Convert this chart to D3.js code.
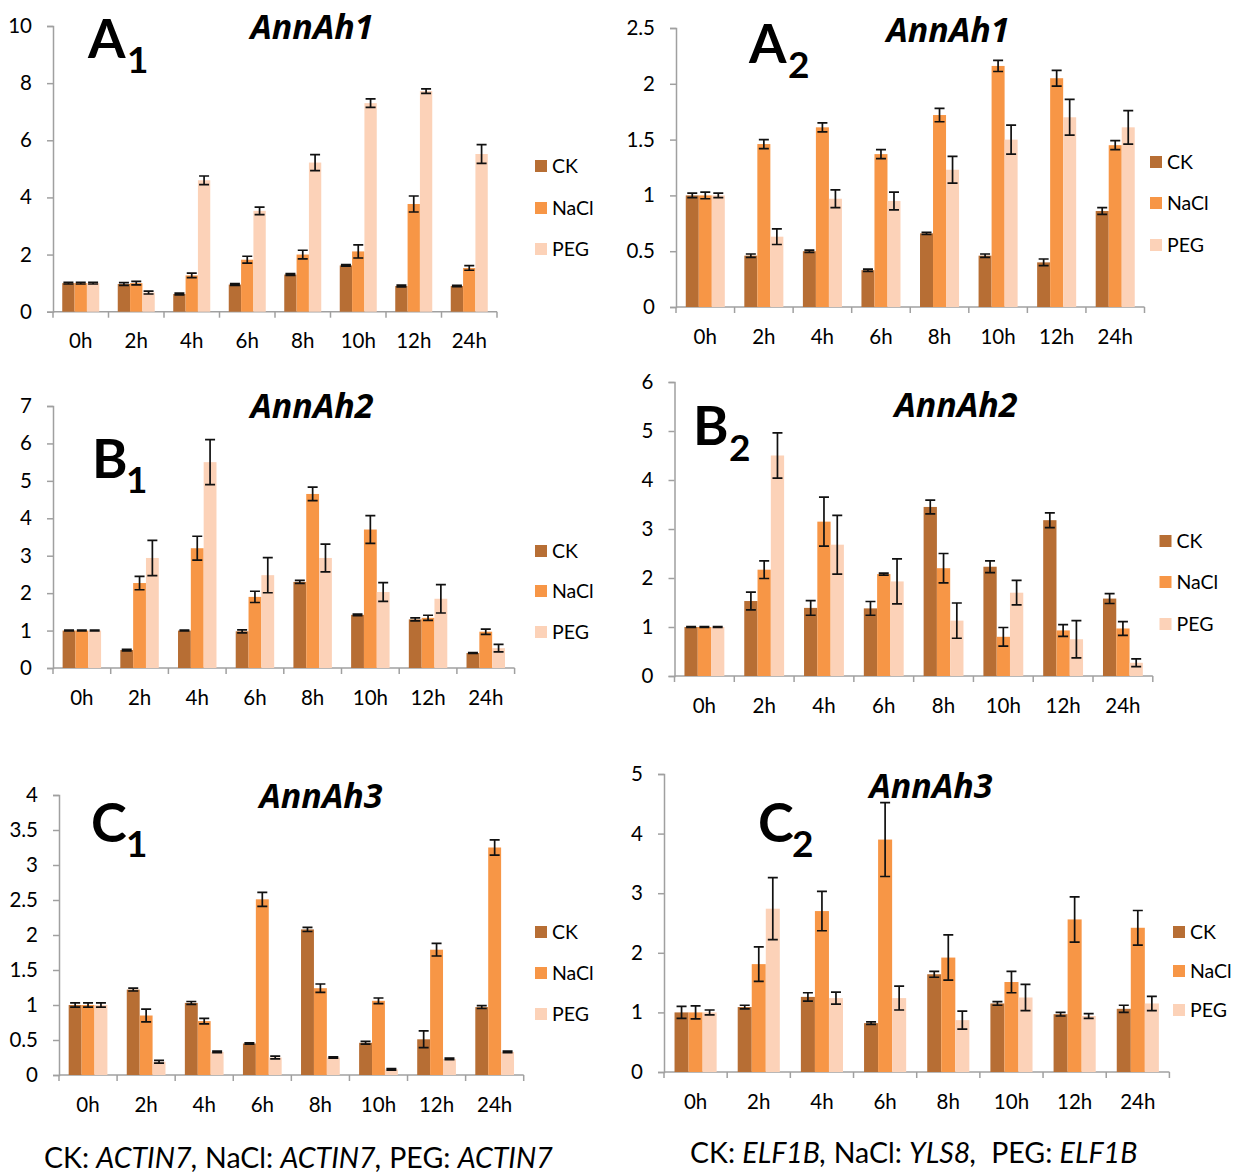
<!DOCTYPE html>
<html lang="en">
<head>
    <meta charset="utf-8"/>
    <style>
        body { margin: 0; background: #fff; }
        svg { display: block; font-family: Lato, "Open Sans", sans-serif; }
        .axis path, .axis line { stroke: #a0a0a0; stroke-width: 1.5px; }
        .axis text { font-size: 20.5px; fill: #000; font-family: Lato, sans-serif; }
        .err { stroke: #111; stroke-width: 1.7px; fill: none; }
        .title { font-size: 34px; font-weight: bold; font-style: italic; font-family: "Open Sans", sans-serif; }
        .tag { font-size: 54px; font-weight: bold; }
        .tagsub { font-size: 37px; font-weight: bold; }
        .legend text { font-size: 19.5px; }
        .caption { font-size: 28.5px; }
    </style>
    <script src="https://cdn.jsdelivr.net/npm/d3@7"></script>
</head>
<body>
<svg id="chart" width="1234" height="1174"></svg>
<script>
    var hours = ['0h', '2h', '4h', '6h', '8h', '10h', '12h', '24h'];
    var series = ['CK', 'NaCl', 'PEG'];
    var colors = ['#b76e34', '#f79646', '#fcd2b8'];

    // A1 - AnnAh1 (ACTIN7)
    var a1CK = [1.0, 0.97, 0.62, 0.95, 1.30, 1.62, 0.90, 0.90];
    var a1CKerr = [0.03, 0.05, 0.03, 0.03, 0.03, 0.03, 0.03, 0.02];
    var a1NaCl = [1.0, 1.0, 1.27, 1.82, 2.0, 2.11, 3.77, 1.53];
    var a1NaClerr = [0.03, 0.06, 0.08, 0.12, 0.15, 0.23, 0.28, 0.08];
    var a1PEG = [1.0, 0.67, 4.6, 3.53, 5.22, 7.3, 7.72, 5.52];
    var a1PEGerr = [0.03, 0.05, 0.15, 0.13, 0.28, 0.15, 0.08, 0.33];
    var a1Ticks = [0, 2, 4, 6, 8, 10];

    // A2 - AnnAh1 (ELF1B / YLS8)
    var a2CK = [1.0, 0.46, 0.50, 0.33, 0.66, 0.46, 0.40, 0.86];
    var a2CKerr = [0.02, 0.015, 0.01, 0.01, 0.01, 0.015, 0.03, 0.03];
    var a2NaCl = [1.0, 1.46, 1.61, 1.37, 1.72, 2.16, 2.05, 1.45];
    var a2NaClerr = [0.03, 0.04, 0.04, 0.04, 0.06, 0.05, 0.07, 0.04];
    var a2PEG = [1.0, 0.63, 0.97, 0.95, 1.23, 1.50, 1.70, 1.61];
    var a2PEGerr = [0.02, 0.07, 0.08, 0.08, 0.12, 0.13, 0.16, 0.15];
    var a2Ticks = [0, 0.5, 1, 1.5, 2, 2.5];

    // B1 - AnnAh2
    var b1CK = [1.0, 0.48, 1.0, 0.98, 2.30, 1.42, 1.30, 0.40];
    var b1CKerr = [0.01, 0.02, 0.01, 0.04, 0.04, 0.02, 0.04, 0.01];
    var b1NaCl = [1.0, 2.27, 3.20, 1.90, 4.65, 3.70, 1.34, 0.97];
    var b1NaClerr = [0.01, 0.18, 0.32, 0.15, 0.18, 0.37, 0.07, 0.07];
    var b1PEG = [1.0, 2.94, 5.50, 2.48, 2.94, 2.03, 1.85, 0.53];
    var b1PEGerr = [0.01, 0.47, 0.60, 0.47, 0.37, 0.25, 0.38, 0.10];
    var b1Ticks = [0, 1, 2, 3, 4, 5, 6, 7];

    // B2 - AnnAh2
    var b2CK = [1.0, 1.53, 1.39, 1.38, 3.45, 2.23, 3.18, 1.58];
    var b2CKerr = [0.01, 0.18, 0.15, 0.14, 0.14, 0.12, 0.15, 0.10];
    var b2NaCl = [1.0, 2.17, 3.15, 2.08, 2.20, 0.80, 0.93, 0.97];
    var b2NaClerr = [0.01, 0.18, 0.50, 0.02, 0.30, 0.19, 0.12, 0.14];
    var b2PEG = [1.0, 4.50, 2.68, 1.93, 1.13, 1.70, 0.75, 0.27];
    var b2PEGerr = [0.01, 0.46, 0.60, 0.46, 0.36, 0.25, 0.38, 0.08];
    var b2Ticks = [0, 1, 2, 3, 4, 5, 6];

    // C1 - AnnAh3
    var c1CK = [1.0, 1.22, 1.03, 0.45, 2.08, 0.46, 0.51, 0.97];
    var c1CKerr = [0.03, 0.02, 0.02, 0.01, 0.03, 0.02, 0.12, 0.02];
    var c1NaCl = [1.0, 0.85, 0.77, 2.51, 1.24, 1.06, 1.79, 3.25];
    var c1NaClerr = [0.03, 0.09, 0.04, 0.10, 0.06, 0.04, 0.09, 0.11];
    var c1PEG = [1.0, 0.19, 0.33, 0.25, 0.25, 0.08, 0.23, 0.33];
    var c1PEGerr = [0.03, 0.02, 0.01, 0.02, 0.01, 0.01, 0.01, 0.01];
    var c1Ticks = [0, 0.5, 1, 1.5, 2, 2.5, 3, 3.5, 4];

    // C2 - AnnAh3
    var c2CK = [1.0, 1.09, 1.26, 0.82, 1.64, 1.15, 0.97, 1.06];
    var c2CKerr = [0.10, 0.03, 0.07, 0.02, 0.05, 0.03, 0.03, 0.06];
    var c2NaCl = [1.0, 1.81, 2.70, 3.90, 1.92, 1.51, 2.56, 2.42];
    var c2NaClerr = [0.11, 0.29, 0.33, 0.62, 0.38, 0.18, 0.38, 0.29];
    var c2PEG = [1.0, 2.74, 1.24, 1.24, 0.87, 1.25, 0.94, 1.15];
    var c2PEGerr = [0.04, 0.52, 0.10, 0.20, 0.15, 0.22, 0.04, 0.12];
    var c2Ticks = [0, 1, 2, 3, 4, 5];

    var panels = [
        {gene: 'AnnAh1', tag: 'A', sub: '1', vals: [a1CK, a1NaCl, a1PEG], errs: [a1CKerr, a1NaClerr, a1PEGerr], ticks: a1Ticks,
         x0: 53, x1: 497, yTop: 26, yBot: 311.7, legX: 535, legY: [166, 208, 249],
         titleX: 312, titleY: 39, tagX: 88, tagY: 58, subX: 127, subY: 73},
        {gene: 'AnnAh1', tag: 'A', sub: '2', vals: [a2CK, a2NaCl, a2PEG], errs: [a2CKerr, a2NaClerr, a2PEGerr], ticks: a2Ticks,
         x0: 676, x1: 1144.5, yTop: 28, yBot: 307, legX: 1150, legY: [162, 203, 245],
         titleX: 948, titleY: 42, tagX: 749, tagY: 63, subX: 788, subY: 78},
        {gene: 'AnnAh2', tag: 'B', sub: '1', vals: [b1CK, b1NaCl, b1PEG], errs: [b1CKerr, b1NaClerr, b1PEGerr], ticks: b1Ticks,
         x0: 53, x1: 514.6, yTop: 406, yBot: 668, legX: 535, legY: [551, 591, 632],
         titleX: 312, titleY: 418, tagX: 92, tagY: 478, subX: 126, subY: 493},
        {gene: 'AnnAh2', tag: 'B', sub: '2', vals: [b2CK, b2NaCl, b2PEG], errs: [b2CKerr, b2NaClerr, b2PEGerr], ticks: b2Ticks,
         x0: 674.5, x1: 1152.8, yTop: 382, yBot: 676, legX: 1159.5, legY: [541, 582, 624],
         titleX: 956, titleY: 417, tagX: 693, tagY: 445, subX: 729, subY: 461},
        {gene: 'AnnAh3', tag: 'C', sub: '1', vals: [c1CK, c1NaCl, c1PEG], errs: [c1CKerr, c1NaClerr, c1PEGerr], ticks: c1Ticks,
         x0: 59, x1: 523.7, yTop: 795, yBot: 1075, legX: 535, legY: [932, 973, 1014],
         titleX: 321, titleY: 808, tagX: 91, tagY: 842, subX: 126, subY: 857},
        {gene: 'AnnAh3', tag: 'C', sub: '2', vals: [c2CK, c2NaCl, c2PEG], errs: [c2CKerr, c2NaClerr, c2PEGerr], ticks: c2Ticks,
         x0: 664, x1: 1169.4, yTop: 774, yBot: 1072, legX: 1173, legY: [932, 971, 1010],
         titleX: 931, titleY: 798, tagX: 758, tagY: 842, subX: 792, subY: 857}
    ];

    var svg = d3.select('#chart');

    panels.forEach(function(p) {
        var g = svg.append('g');
        var maxV = p.ticks[p.ticks.length - 1];

        var x = d3.scaleBand().domain(hours).range([p.x0, p.x1])
            .paddingInner(1 / 3).paddingOuter(1 / 6);
        var xs = d3.scaleBand().domain(series).range([0, x.bandwidth()]);
        var y = d3.scaleLinear().domain([0, maxV]).range([p.yBot, p.yTop]);

        // y axis
        g.append('g')
            .attr('class', 'axis')
            .attr('transform', 'translate(' + p.x0 + ',0)')
            .call(d3.axisLeft(y).tickValues(p.ticks).tickSize(6).tickPadding(15)
                .tickFormat(d3.format('~g')));

        // x axis: labels only, boundary ticks drawn below
        var xa = g.append('g')
            .attr('class', 'axis')
            .attr('transform', 'translate(0,' + p.yBot + ')')
            .call(d3.axisBottom(x).tickSize(0).tickPadding(22).tickSizeOuter(0));
        xa.select('.domain').attr('d', 'M' + p.x0 + ',0H' + p.x1);
        xa.selectAll('.bound')
            .data(d3.range(hours.length + 1))
            .enter().append('line')
            .attr('class', 'bound')
            .attr('x1', function(i) { return p.x0 + i * x.step(); })
            .attr('x2', function(i) { return p.x0 + i * x.step(); })
            .attr('y1', 0).attr('y2', 6);

        // bars
        series.forEach(function(s, si) {
            var rows = hours.map(function(h, i) {
                return {h: h, v: p.vals[si][i], e: p.errs[si][i]};
            });
            var sg = g.append('g');
            sg.selectAll('rect')
                .data(rows)
                .enter().append('rect')
                .attr('x', function(d) { return x(d.h) + xs(s); })
                .attr('width', xs.bandwidth())
                .attr('y', function(d) { return y(d.v); })
                .attr('height', function(d) { return p.yBot - y(d.v); })
                .attr('fill', colors[si]);

            sg.selectAll('path')
                .data(rows)
                .enter().append('path')
                .attr('class', 'err')
                .attr('d', function(d) {
                    var cx = x(d.h) + xs(s) + xs.bandwidth() / 2,
                        lo = y(d.v - d.e), hi = y(d.v + d.e), w = 5;
                    return 'M' + cx + ',' + lo + 'V' + hi
                        + 'M' + (cx - w) + ',' + hi + 'H' + (cx + w)
                        + 'M' + (cx - w) + ',' + lo + 'H' + (cx + w);
                });
        });

        // legend
        var leg = g.append('g').attr('class', 'legend');
        series.forEach(function(s, si) {
            leg.append('rect')
                .attr('x', p.legX).attr('y', p.legY[si] - 6)
                .attr('width', 12).attr('height', 12)
                .attr('fill', colors[si]);
            leg.append('text')
                .attr('x', p.legX + 17).attr('y', p.legY[si])
                .attr('dy', '0.35em')
                .text(s);
        });

        // gene title
        g.append('text')
            .attr('class', 'title')
            .attr('x', p.titleX).attr('y', p.titleY)
            .attr('text-anchor', 'middle')
            .text(p.gene);

        // panel tag with subscript
        g.append('text').attr('class', 'tag')
            .attr('x', p.tagX).attr('y', p.tagY).text(p.tag);
        g.append('text').attr('class', 'tagsub')
            .attr('x', p.subX).attr('y', p.subY).text(p.sub);
    });

    // reference gene captions
    var cap1 = svg.append('text').attr('class', 'caption').attr('x', 44).attr('y', 1168);
    cap1.append('tspan').text('CK: ');
    cap1.append('tspan').style('font-style', 'italic').text('ACTIN7,');
    cap1.append('tspan').text(' NaCl: ');
    cap1.append('tspan').style('font-style', 'italic').text('ACTIN7,');
    cap1.append('tspan').text(' PEG: ');
    cap1.append('tspan').style('font-style', 'italic').text('ACTIN7');

    var cap2 = svg.append('text').attr('class', 'caption').attr('x', 690).attr('y', 1163);
    cap2.append('tspan').text('CK: ');
    cap2.append('tspan').style('font-style', 'italic').text('ELF1B,');
    cap2.append('tspan').text(' NaCl: ');
    cap2.append('tspan').style('font-style', 'italic').text('YLS8,');
    cap2.append('tspan').text('\u00a0 PEG: ');
    cap2.append('tspan').style('font-style', 'italic').text('ELF1B');
</script>
</body>
</html>
